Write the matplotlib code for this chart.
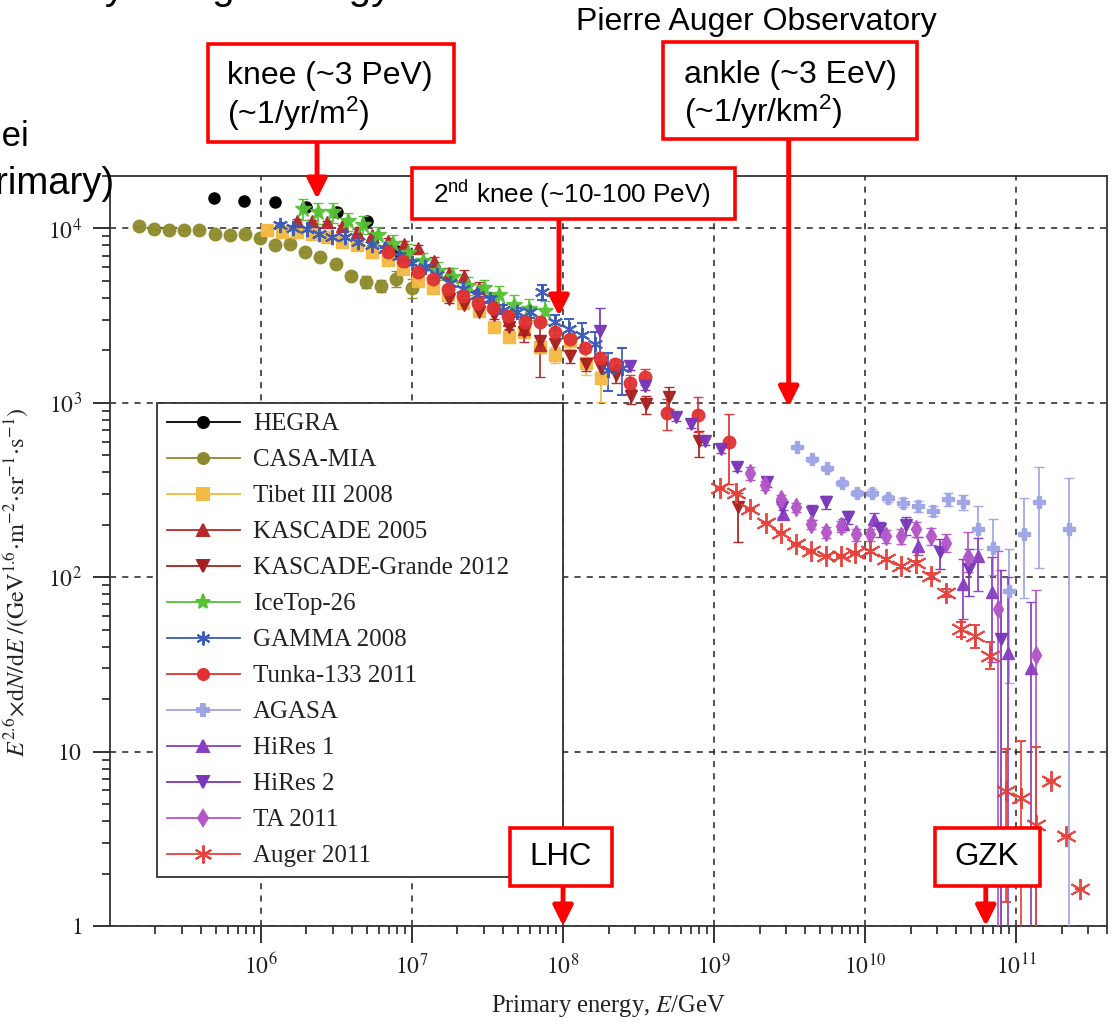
import numpy as np
import matplotlib
matplotlib.use('Agg')
import matplotlib.pyplot as plt
from matplotlib.lines import Line2D
from matplotlib.patches import Rectangle
from matplotlib.ticker import NullFormatter, LogLocator

plt.rcParams['font.family'] = ['Liberation Serif', 'DejaVu Serif']
plt.rcParams['mathtext.fontset'] = 'stix'

W, H = 1114, 1022

# energy [GeV] and E^2.6 dN/dE for each experiment, with relative errors (down, up)
hegra_E = [4.88e5, 7.7e5, 1.24e6, 1.99e6, 3.19e6, 5.03e6, 7.96e6]
hegra_F = [14900, 14300, 14100, 13200, 12400, 11100, 7400]

casa_E = [1.55e5, 1.95e5, 2.45e5, 3.08e5, 3.87e5, 4.94e5, 6.22e5, 7.83e5, 9.85e5, 1.24e6,
          1.56e6, 1.96e6, 2.47e6, 3.15e6, 3.96e6, 4.99e6, 6.27e6, 7.89e6, 9.93e6]
casa_F = [10310, 9910, 9830, 9740, 9740, 9325, 9200, 9325, 8845, 8060,
          8170, 7330, 6890, 6220, 5375, 4965, 4710, 5165, 4555]
casa_err = [0, 0, 0, 0, 0, 0, 0, 0, 0, 0, 0, 0, 0, 0, 0.05, 0.08, 0.08, 0.1, 0.12]

tibet_E = [1.10e6, 1.38e6, 1.74e6, 2.18e6, 2.75e6, 3.45e6, 4.35e6, 5.47e6, 6.88e6, 8.65e6,
           1.09e7, 1.37e7, 1.72e7, 2.17e7, 2.77e7, 3.48e7, 4.38e7, 5.51e7, 7.03e7, 8.85e7,
           1.11e8, 1.42e8, 1.79e8]
tibet_F = [9800, 9610, 9485, 9240, 8880, 8420, 7990, 7380, 6640, 5820,
           5030, 4530, 4130, 3715, 3345, 2740, 2400, 2565, 2105, 1893,
           2250, 1703, 1397]
tibet_err = [0, 0, 0, 0, 0, 0, 0, 0, 0, 0, 0, 0, 0, 0,
             0.03, 0.05, 0.06, 0.05, 0.08, 0.1, 0.1, 0.15, 0.28]

kascade_E = [1.73e6, 2.18e6, 2.75e6, 3.45e6, 4.35e6, 5.47e6, 6.98e6, 8.79e6, 1.10e7, 1.39e7,
             1.75e7, 2.20e7, 2.77e7, 3.48e7, 4.38e7, 5.51e7, 7.03e7]
kascade_F = [11100, 10970, 10825, 10270, 9610, 9120, 8530, 8200, 7680, 6470,
             5520, 5375, 4530, 3755, 3005, 2635, 2160]
kascade_err = [0.02, 0.02, 0.02, 0.02, 0.03, 0.03, 0.03, 0.04, 0.05, 0.06,
               0.07, 0.08, 0.09, 0.1, 0.12, 0.15, 0.35]

grande_E = [1.75e7, 2.20e7, 2.77e7, 3.48e7, 4.38e7, 5.51e7, 7.03e7, 8.85e7, 1.11e8, 1.42e8,
            1.79e8, 2.25e8, 2.83e8, 3.56e8, 5.06e8, 7.89e8, 1.43e9]
grande_F = [3920, 3660, 3300, 3170, 2740, 2565, 2250, 2190, 1845, 1660,
            1595, 1452, 1097, 984, 1079, 603, 252]
grande_dn = [0.04, 0.04, 0.05, 0.05, 0.05, 0.06, 0.06, 0.07, 0.08, 0.08,
             0.09, 0.1, 0.1, 0.12, 0.15, 0.19, 0.37]
grande_up = [0.04, 0.04, 0.05, 0.05, 0.05, 0.06, 0.06, 0.07, 0.08, 0.08,
             0.09, 0.1, 0.1, 0.12, 0.15, 0.15, 0.2]

icetop_E = [1.90e6, 2.38e6, 3.00e6, 3.77e6, 4.73e6, 5.96e6, 7.48e6, 9.42e6, 1.18e7, 1.49e7,
            1.87e7, 2.35e7, 3.00e7, 3.77e7, 4.73e7, 5.96e7, 7.60e7]
icetop_F = [13020, 12360, 12360, 10970, 10540, 9120, 8200, 7280, 6470, 5740,
            5305, 4710, 4530, 4130, 3660, 3475, 3345]
icetop_err = [0.14, 0.14, 0.13, 0.12, 0.12, 0.12, 0.12, 0.12, 0.12, 0.12,
              0.12, 0.12, 0.12, 0.13, 0.13, 0.14, 0.15]

gamma_E = [1.34e6, 1.63e6, 2.02e6, 2.42e6, 2.95e6, 3.60e6, 4.39e6, 5.43e6, 6.62e6, 8.20e6,
           1.00e7, 1.22e7, 1.47e7, 1.79e7, 2.18e7, 2.69e7, 3.29e7, 4.01e7, 4.96e7, 6.04e7,
           7.26e7, 8.85e7, 1.10e8, 1.34e8, 1.63e8, 1.99e8, 2.46e8]
gamma_F = [10540, 10130, 9870, 9240, 8880, 8880, 8420, 8090, 7580, 6910,
           6380, 5975, 5445, 4900, 4470, 4180, 3920, 3430, 3300, 3300,
           4300, 2890, 2635, 2465, 2190, 1553, 1595]
gamma_err = [0.02, 0.02, 0.02, 0.02, 0.02, 0.02, 0.02, 0.02, 0.02, 0.03,
             0.03, 0.03, 0.03, 0.04, 0.04, 0.05, 0.05, 0.06, 0.06, 0.07,
             0.1, 0.1, 0.15, 0.16, 0.17, 0.25, 0.3]

tunka_E = [6.93e6, 8.72e6, 1.10e7, 1.38e7, 1.73e7, 2.18e7, 2.74e7, 3.44e7, 4.33e7, 5.60e7,
           7.05e7, 8.85e7, 1.11e8, 1.40e8, 1.76e8, 2.21e8, 2.78e8, 3.49e8, 4.89e8, 7.84e8,
           1.26e9]
tunka_F = [7380, 6470, 5665, 5165, 4470, 4075, 3760, 3520, 3130, 2925,
           2890, 2565, 2310, 2075, 1820, 1660, 1306, 1415, 879, 857,
           600]
tunka_dn = [0.01, 0.01, 0.01, 0.01, 0.01, 0.01, 0.02, 0.02, 0.02, 0.03,
            0.03, 0.04, 0.05, 0.05, 0.06, 0.08, 0.1, 0.1, 0.2, 0.21, 0.43]
tunka_up = [0.01, 0.01, 0.01, 0.01, 0.01, 0.01, 0.02, 0.02, 0.02, 0.03,
            0.03, 0.04, 0.05, 0.05, 0.06, 0.08, 0.1, 0.1, 0.2, 0.26, 0.43]

agasa_E = [3.55e9, 4.47e9, 5.62e9, 7.08e9, 8.91e9, 1.12e10, 1.41e10, 1.78e10, 2.24e10, 2.82e10,
           3.55e10, 4.47e10, 5.62e10, 7.08e10, 8.91e10, 1.12e11, 1.41e11, 2.24e11]
agasa_F = [558, 475, 422, 349, 303, 306, 283, 268, 255, 240,
           280, 270, 188, 148, 83, 176, 270, 188]
agasa_dn = [0.02, 0.03, 0.03, 0.04, 0.04, 0.05, 0.05, 0.06, 0.07, 0.07,
            0.09, 0.1, 0.23, 0.3, 0.7, 0.57, 0.58, 0.995]
agasa_up = [0.02, 0.03, 0.03, 0.04, 0.04, 0.05, 0.05, 0.06, 0.07, 0.07,
            0.09, 0.1, 0.37, 0.45, 0.75, 0.61, 0.58, 0.98]

hires1_E = [2.86e9, 7.12e9, 1.14e10, 2.24e10, 4.43e10, 5.56e10, 6.97e10, 8.87e10, 1.26e11]
hires1_F = [230, 201, 215, 152, 91, 132, 82, 37, 30]
hires1_dn = [0.06, 0.07, 0.08, 0.12, 0.37, 0.37, 0.6, 0.995, 0.995]
hires1_up = [0.06, 0.07, 0.08, 0.12, 0.4, 0.27, 0.6, 1.7, 1.4]

hires2_E = [1.76e8, 2.78e8, 3.49e8, 5.60e8, 7.05e8, 8.72e8, 1.11e9, 1.42e9, 2.23e9, 2.81e9,
            4.42e9, 5.55e9, 7.75e9, 1.26e10, 1.87e10, 3.12e10, 4.91e10, 7.89e10]
hires2_F = [2575, 1625, 1248, 828, 755, 603, 542, 427, 350, 252,
            236, 269, 221, 188, 199, 139, 111, 44]
hires2_dn = [0.42, 0.05, 0.05, 0.05, 0.05, 0.05, 0.05, 0.05, 0.06, 0.12,
             0.1, 0.08, 0.08, 0.1, 0.12, 0.2, 0.3, 0.995]
hires2_up = [0.36, 0.05, 0.05, 0.05, 0.05, 0.05, 0.05, 0.05, 0.06, 0.12,
             0.1, 0.08, 0.08, 0.1, 0.12, 0.2, 0.3, 1.5]

ta_E = [1.74e9, 2.18e9, 2.78e9, 3.49e9, 4.38e9, 5.49e9, 6.98e9, 8.76e9, 1.08e10, 1.38e10,
        1.73e10, 2.17e10, 2.72e10, 3.42e10, 4.77e10, 7.62e10, 1.35e11]
ta_F = [395, 337, 280, 252, 201, 181, 196, 176, 176, 172,
        172, 188, 172, 158, 130, 66, 36]
ta_dn = [0.08, 0.06, 0.06, 0.06, 0.06, 0.07, 0.07, 0.08, 0.08, 0.09,
         0.1, 0.1, 0.11, 0.12, 0.18, 0.995, 0.995]
ta_up = [0.08, 0.06, 0.06, 0.06, 0.06, 0.07, 0.07, 0.08, 0.08, 0.09,
         0.1, 0.1, 0.11, 0.12, 0.39, 1.13, 1.36]

auger_E = [1.10e9, 1.39e9, 1.74e9, 2.21e9, 2.78e9, 3.49e9, 4.38e9, 5.49e9, 6.88e9, 8.63e9,
           1.08e10, 1.38e10, 1.73e10, 2.17e10, 2.72e10, 3.42e10, 4.29e10, 5.38e10, 6.75e10, 8.59e10,
           1.08e11, 1.35e11, 1.70e11, 2.13e11, 2.67e11]
auger_F = [326, 306, 246, 206, 180, 155, 141, 133, 132, 138,
           141, 127, 116, 121, 102, 81.6, 50.2, 46, 35.3, 5.93,
           5.43, 3.82, 6.76, 3.30, 1.63]
auger_dn = [0.01, 0.01, 0.01, 0.01, 0.01, 0.01, 0.01, 0.01, 0.01, 0.01,
            0.02, 0.02, 0.02, 0.03, 0.04, 0.05, 0.1, 0.15, 0.16, 0.77,
            0.995, 0.995, 0, 0, 0]
auger_up = [0.01, 0.01, 0.01, 0.01, 0.01, 0.01, 0.01, 0.01, 0.01, 0.01,
            0.02, 0.02, 0.02, 0.03, 0.04, 0.05, 0.1, 0.15, 0.2, 0.74,
            1.12, 1.78, 0, 0, 0]

fig = plt.figure(figsize=(W / 100, H / 100), dpi=100)
ax = fig.add_axes([110 / W, 1 - 926 / H, 997 / W, 750 / H])
ax.set_xscale('log')
ax.set_yscale('log')
ax.set_xlim(1e5, 4e11)
ax.set_ylim(1, 2e4)

ax.grid(True, which='major', ls=(0, (4, 4)), lw=1.1, color='#222222', zorder=0)
ax.set_axisbelow(True)


def draw(E, F, dn, up, marker, color, ms, mew=1.0, z=3):
    E = np.array(E)
    F = np.array(F, dtype=float)
    yerr = [F * np.array(dn), F * np.array(up)]
    ax.errorbar(E, F, yerr=yerr, fmt='', marker=marker, color=color, mfc=color, mec=color,
                ms=ms, mew=mew, ecolor=color, elinewidth=1.3, capsize=3.5,
                capthick=1.3, ls='none', zorder=z, alpha=0.95)


ax.plot(hegra_E, hegra_F, 'o', color='black', ms=8, ls='none', zorder=3)
draw(casa_E, casa_F, casa_err, casa_err, 'o', '#8E8A2C', 9)
draw(tibet_E, tibet_F, tibet_err, tibet_err, 's', '#F4B940', 8)
draw(kascade_E, kascade_F, kascade_err, kascade_err, '^', '#B8262A', 8)
draw(grande_E, grande_F, grande_dn, grande_up, 'v', '#A8201E', 8)
draw(icetop_E, icetop_F, icetop_err, icetop_err, '*', '#55C234', 12)
draw(gamma_E, gamma_F, gamma_err, gamma_err, (6, 2, 0), '#3A5AB8', 11, mew=1.5)
draw(tunka_E, tunka_F, tunka_dn, tunka_up, 'o', '#E03232', 9)
draw(agasa_E, agasa_F, agasa_dn, agasa_up, 'P', '#9EA5E6', 8)
draw(hires1_E, hires1_F, hires1_dn, hires1_up, '^', '#8A3EC2', 8)
draw(hires2_E, hires2_F, hires2_dn, hires2_up, 'v', '#7A36B8', 8)
draw(ta_E, ta_F, ta_dn, ta_up, 'd', '#B455C8', 9)
draw(auger_E, auger_F, auger_dn, auger_up, (6, 2, 0), '#E8403A', 15, mew=1.4)

# axes, ticks
for s in ax.spines.values():
    s.set_color('#333333')
    s.set_linewidth(1.3)

ax.set_xticks([1e6, 1e7, 1e8, 1e9, 1e10, 1e11],
              [r'$10^{6}$', r'$10^{7}$', r'$10^{8}$', r'$10^{9}$', r'$10^{10}$', r'$10^{11}$'])
ax.set_yticks([1, 10, 100, 1000, 10000],
              [r'$1$', r'$10$', r'$10^{2}$', r'$10^{3}$', r'$10^{4}$'])
ax.xaxis.set_minor_locator(LogLocator(base=10, subs=np.arange(2, 10)))
ax.yaxis.set_minor_locator(LogLocator(base=10, subs=np.arange(2, 10)))
ax.xaxis.set_minor_formatter(NullFormatter())
ax.yaxis.set_minor_formatter(NullFormatter())
ax.tick_params(axis='both', which='major', direction='out', length=12, width=1.3,
               labelsize=17, colors='#222222', pad=8)
ax.tick_params(axis='both', which='minor', direction='out', length=6, width=1.2,
               colors='#222222')
ax.tick_params(top=False, right=False, which='both')

ax.set_xlabel(r'Primary energy, $E$/GeV', fontsize=17.7, color='#222222', labelpad=10)
ax.set_ylabel(r'$E^{2.6}\!\times\!\mathrm{d}N/\mathrm{d}E\ /(\mathrm{GeV}^{1.6}\!\cdot\!\mathrm{m}^{-2}\!\cdot\!\mathrm{sr}^{-1}\!\cdot\!\mathrm{s}^{-1})$',
              fontsize=17.4, color='#222222')
ax.yaxis.set_label_coords(-0.08, 0.4587)

# legend
names = ['HEGRA', 'CASA-MIA', 'Tibet III 2008', 'KASCADE 2005', 'KASCADE-Grande 2012',
         'IceTop-26', 'GAMMA 2008', 'Tunka-133 2011', 'AGASA', 'HiRes 1', 'HiRes 2',
         'TA 2011', 'Auger 2011']
styles = [('o', 'black', 8), ('o', '#8E8A2C', 8), ('s', '#F4B940', 8), ('^', '#B8262A', 8),
          ('v', '#A8201E', 8), ('*', '#55C234', 11), ((6, 2, 0), '#3A5AB8', 10),
          ('o', '#E03232', 8), ('P', '#9EA5E6', 8), ('^', '#8A3EC2', 8), ('v', '#7A36B8', 8),
          ('d', '#B455C8', 8), ((6, 2, 0), '#E8403A', 13)]
handles = [Line2D([], [], marker=m, color=c, mfc=c, mec=c, ms=s, lw=1.3, mew=1.4)
           for m, c, s in styles]
leg = ax.legend(handles, names, loc='upper left', bbox_to_anchor=(0.0471, 0.0, 0.407, 0.6975),
                mode='expand', borderaxespad=0, fontsize=18, labelspacing=0.54,
                handlelength=2.92, handletextpad=0.52, borderpad=0.4, fancybox=False,
                framealpha=1, edgecolor='#333333')
leg.get_frame().set_linewidth(1.3)
for t in leg.get_texts():
    t.set_color('#222222')


# annotation boxes (figure pixel positions, origin at top left)
def box(x0, y0, x1, y1):
    fig.add_artist(Rectangle((x0 / W, 1 - y1 / H), (x1 - x0) / W, (y1 - y0) / H,
                             transform=fig.transFigure, fc='white', ec='#FF0000',
                             lw=2.6, zorder=10))


def label(x, y, s, size, ha='left'):
    fig.text(x / W, 1 - y / H, s, fontsize=size, ha=ha, va='center',
             family=['Liberation Sans', 'DejaVu Sans'], color='black', zorder=11)


def arrow(xdata, y_start, y_tip=None, ydata=None):
    arrowprops = dict(arrowstyle='-|>,head_length=0.6,head_width=0.3', color='#FF0000',
                      lw=3.5, shrinkA=0, shrinkB=0, mutation_scale=20)
    if ydata is not None:
        ax.annotate('', xy=(xdata, ydata), xycoords='data',
                    xytext=(xdata, 1 - y_start / H), textcoords=('data', 'figure fraction'),
                    arrowprops=arrowprops, annotation_clip=False, zorder=12)
    else:
        ax.annotate('', xy=(xdata, 1 - y_tip / H), xycoords=('data', 'figure fraction'),
                    xytext=(xdata, 1 - y_start / H), textcoords=('data', 'figure fraction'),
                    arrowprops=arrowprops, annotation_clip=False, zorder=12)


sans = ['Liberation Sans', 'DejaVu Sans']

box(208, 44, 454, 142)
label(227, 76, 'knee (~3 PeV)', 23)
label(227, 114, r'(~1/yr/m$\mathregular{^2}$)', 23)
arrow(2.35e6, 142, y_tip=199)

box(663, 42, 917, 139)
label(684, 75, 'ankle (~3 EeV)', 23)
label(684, 112, r'(~1/yr/km$\mathregular{^2}$)', 23)
arrow(3.12e9, 139, y_tip=407)

box(412, 168, 735, 219)
label(433, 194, r'2$\mathregular{^{nd}}$ knee (~10-100 PeV)', 18.8)
arrow(9.4e7, 219, y_tip=316)

box(510, 828, 612, 886)
label(561, 857, 'LHC', 22.5, ha='center')
arrow(1e8, 886, ydata=1)

box(935, 828, 1040, 886)
label(987, 857, 'GZK', 22.5, ha='center')
arrow(6.3e10, 886, ydata=1)

label(576, 22, 'Pierre Auger Observatory', 23)

# slide text cut off at the edges
fig.text(29 / W, 1 - 146 / H, 'nuclei', fontsize=25, ha='right', va='baseline', family=sans)
fig.text(114 / W, 1 - 194 / H, '(per primary)', fontsize=27.5, ha='right', va='baseline',
         family=sans, zorder=11)
fig.text(-25 / W, 1 + 1 / H, 'Intensity at high energy', fontsize=29, ha='left',
         va='baseline', family=sans)

fig.savefig('out.png', dpi=100)
